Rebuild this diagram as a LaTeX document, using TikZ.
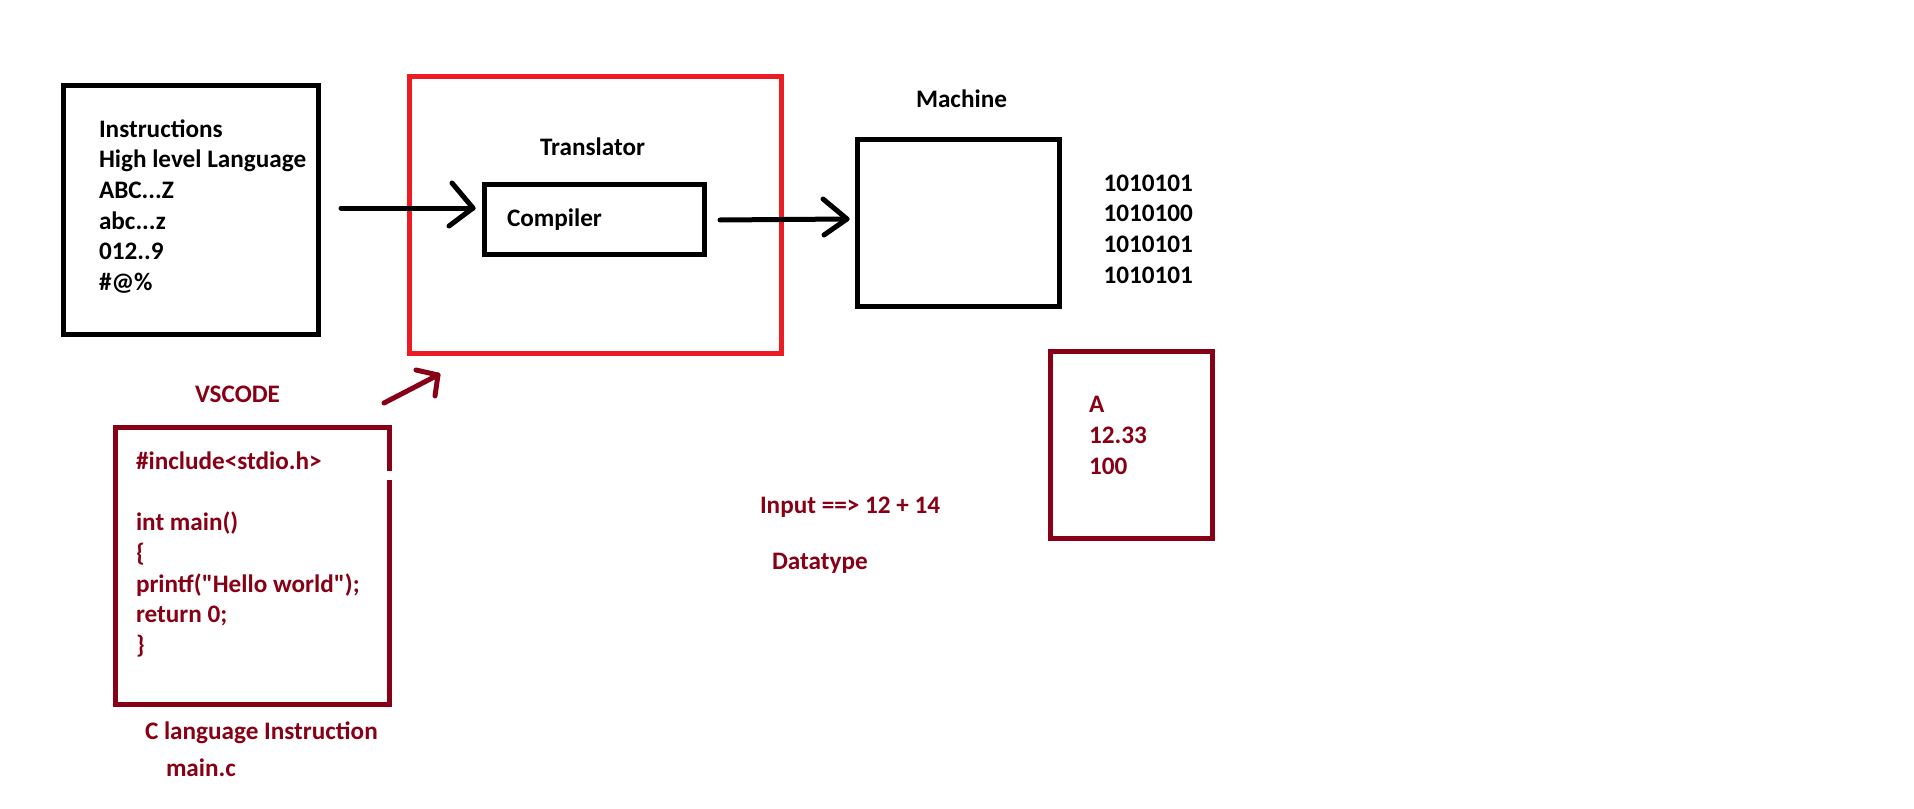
\documentclass[tikz,border=0pt]{standalone}
\usepackage{fontspec}
\setmainfont{Carlito}[Ligatures=TeXOff]
\definecolor{paintred}{HTML}{ED1C24}
\definecolor{darkred}{HTML}{880015}
\begin{document}
\begin{tikzpicture}[x=1bp,y=-1bp,
  txt/.style={anchor=base west, inner sep=0pt, outer sep=0pt,
    font=\fontsize{25.2bp}{30.7bp}\selectfont\bfseries},
  redtxt/.style={txt, text=darkred},
  box/.style={rectangle, draw, line width=5bp, inner sep=0pt, outer sep=0pt},
  redbox/.style={box, draw=paintred},
  dredbox/.style={box, draw=darkred},
  barrow/.style={line width=5bp, line cap=round, line join=round},
  rarrow/.style={barrow, draw=darkred}]
\useasboundingbox[fill=white] (0,0) rectangle (1914,809);

% boxes
\node[box, minimum width=255bp, minimum height=249bp] (lbox) at (191,210) {};
\node[redbox, minimum width=372bp, minimum height=277bp] (trans) at (595.5,215) {};
\node[box, minimum width=220bp, minimum height=70.6bp] (comp) at (594.5,219.5) {};
\node[box, minimum width=202bp, minimum height=166.5bp] (mach) at (958.5,223.25) {};
\node[dredbox, minimum width=162bp, minimum height=187bp] (dtbox) at (1131.5,445) {};
\node[dredbox, draw=none, minimum width=274bp, minimum height=277bp] (code) at (252.5,566) {};
\draw[darkred, line width=5bp]
  ([yshift=-52.5bp]code.north east) -- (code.south east) -- (code.south west)
  -- (code.north west) -- (code.north east) -- ([yshift=-43.5bp]code.north east);

% left text
\node[txt] (l0) at (99,137) {Instructions};
\node[txt] (l1) at (99,167.7) {High level Language};
\node[txt] (l2) at (99,198.4) {ABC...Z};
\node[txt] (l3) at (99,229.1) {abc...z};
\node[txt] (l4) at (99,259.8) {012..9};
\node[txt] (l5) at (99,290.5) {\#@\%};

\node[txt] (translbl) at (540,155) {Translator};
\node[txt] (complbl) at (507,226) {Compiler};
\node[txt] (machlbl) at (916,107) {Machine};

\node[txt] (b0) at (1103.5,191) {1010101};
\node[txt] (b1) at (1103.5,221.7) {1010100};
\node[txt] (b2) at (1103.5,252.4) {1010101};
\node[txt] (b3) at (1103.5,283.1) {1010101};

\node[redtxt] (d0) at (1089,412.7) {A};
\node[redtxt] (d1) at (1089,443.4) {12.33};
\node[redtxt] (d2) at (1089,474.1) {100};

\node[redtxt] (vscode) at (195,402.7) {VSCODE};

\node[redtxt] (c0) at (136,469.3) {\#include<stdio.h>};
\node[redtxt] (c1) at (136,530.7) {int main()};
\node[redtxt] (c2) at (136,561.4) {\{};
\node[redtxt] (c3) at (136,592.1) {printf("Hello world");};
\node[redtxt] (c4) at (136,622.8) {return 0;};
\node[redtxt] (c5) at (136,653.5) {\}};

\node[redtxt] (clang) at (145,739) {C language Instruction};
\node[redtxt] (mainc) at (166,776.7) {main.c};
\node[redtxt] (input) at (760,513.3) {Input ==> 12 + 14};
\node[redtxt] (dtype) at (772,569.7) {Datatype};

% arrows
\coordinate (t1) at ([shift={(-11.5,-11.5)}]comp.west);
\draw[barrow] ([shift={(22.5,-2)}]lbox.east) -- (t1);
\draw[barrow] ([shift={(-21,-25)}]t1) -- (t1) -- ++(-24,18);

\coordinate (t2) at ([shift={(-10.5,-4.25)}]mach.west);
\draw[barrow] ([shift={(15.5,0.5)}]comp.east) -- (t2);
\draw[barrow] ([shift={(-24,-20)}]t2) -- (t2) -- ++(-23,16);

\coordinate (t3) at ([shift={(28.5,21.5)}]trans.south west);
\coordinate (vsa) at (384,403);
\draw[rarrow] (vsa) -- (t3);
\draw[rarrow] ([shift={(-22,-5)}]t3) -- (t3) -- ++(-3,21);
\end{tikzpicture}
\end{document}
